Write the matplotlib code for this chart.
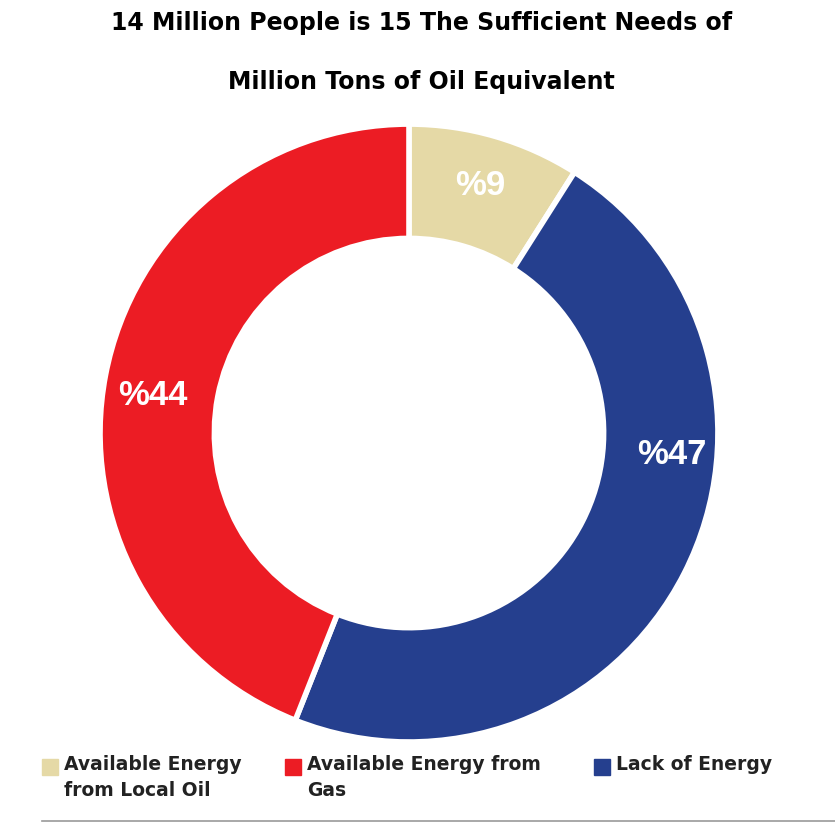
import matplotlib.pyplot as plt
from matplotlib.patches import Rectangle
from matplotlib.lines import Line2D

values = [9, 47, 44]
pct_text = ['%9', '%47', '%44']
colors = ['#E5D9A6', '#253F8E', '#EC1C24']

fig = plt.figure(figsize=(8.35, 8.25), dpi=100)
ax = fig.add_axes([0.1198, 0.1006, 0.74, 0.749])
wedges, _ = ax.pie(values, colors=colors, startangle=90, counterclock=False,
                   radius=1.0, wedgeprops=dict(width=0.37, edgecolor='white', linewidth=4))
ax.set_xlim(-1, 1)
ax.set_ylim(-1, 1)
ax.set_aspect('equal')

label_pos = [(0.23, 0.80), (0.85, -0.07), (-0.83, 0.12)]
for (x, y), t in zip(label_pos, pct_text):
    ax.text(x, y, t, color='white', fontsize=25, fontweight='bold',
            ha='center', va='center', family='Liberation Sans')

fig.text(0.505, 0.972, '14 Million People is 15 The Sufficient Needs of', ha='center', va='center',
         fontsize=17, fontweight='bold')
fig.text(0.505, 0.900, 'Million Tons of Oil Equivalent', ha='center', va='center',
         fontsize=17, fontweight='bold')

leg_items = [(42, colors[0], 'Available Energy\nfrom Local Oil'),
             (285, colors[2], 'Available Energy from\nGas'),
             (594, colors[1], 'Lack of Energy')]
for x, c, t in leg_items:
    fig.patches.append(Rectangle((x / 835, 1 - 775 / 825), 16 / 835, 16 / 825,
                                 color=c, transform=fig.transFigure))
    fig.text((x + 22) / 835, 1 - 755 / 825, t, ha='left', va='top',
             fontsize=13.5, fontweight='bold', color='#222222', linespacing=1.5)

fig.lines.append(Line2D([42 / 835, 1], [1 - 821 / 825] * 2, color='#999999', lw=1.2,
                        transform=fig.transFigure))

fig.savefig('out.png', dpi=100)
